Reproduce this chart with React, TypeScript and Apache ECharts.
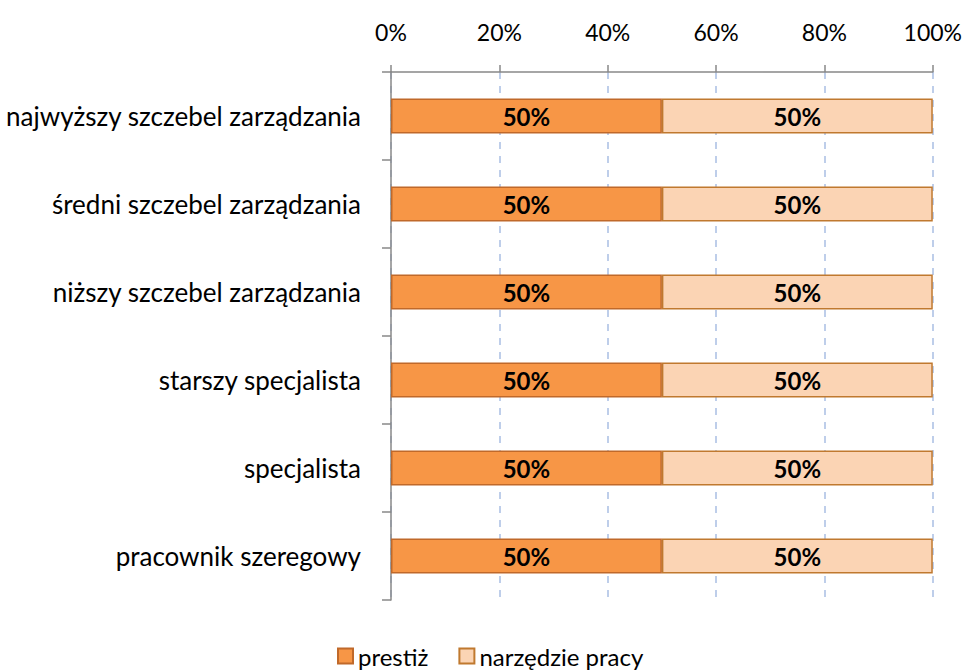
import React, { useEffect, useRef } from "react";
import * as echarts from "echarts";

const categories = [
  "najwyższy szczebel zarządzania",
  "średni szczebel zarządzania",
  "niższy szczebel zarządzania",
  "starszy specjalista",
  "specjalista",
  "pracownik szeregowy",
];
const prestiz = [50, 50, 50, 50, 50, 50];
const narzedzie = [50, 50, 50, 50, 50, 50];
const seriesNames = ["prestiż", "narzędzie pracy"];

const FONT = "Lato, 'Open Sans', sans-serif";

export default function App() {
  const ref = useRef<HTMLDivElement>(null);
  useEffect(() => {
    if (!ref.current) return;
    const chart = echarts.init(ref.current, undefined, { renderer: "svg" });
    const label = {
      show: true,
      position: "inside",
      formatter: "{c}%",
      color: "#000",
      fontWeight: "bold",
      fontSize: 24,
      fontFamily: FONT,
    };
    chart.setOption({
      animation: false,
      textStyle: { fontFamily: FONT },
      grid: { left: 391, right: 32, top: 72, bottom: 71, containLabel: false },
      legend: {
        left: 332,
        bottom: 0,
        padding: [0, 5, 2, 5],
        itemWidth: 15,
        itemHeight: 15,
        itemGap: 30,
        icon: "rect",
        textStyle: { fontSize: 24, color: "#000", fontFamily: FONT, lineHeight: 26 },
        data: seriesNames,
      },
      xAxis: {
        type: "value",
        position: "top",
        min: 0,
        max: 100,
        interval: 20,
        axisLine: { show: true, lineStyle: { color: "#888", width: 1.5 } },
        axisTick: { show: true, inside: false, length: 7, lineStyle: { color: "#888", width: 1.5 } },
        axisLabel: { formatter: "{value}%", fontSize: 23, color: "#000", margin: 29, fontFamily: FONT },
        splitLine: { show: true, lineStyle: { color: "#a9bfe3", type: [7, 7], width: 1.5 } },
      },
      yAxis: {
        type: "category",
        inverse: true,
        data: categories,
        axisLine: { show: true, lineStyle: { color: "#888", width: 1.5 } },
        axisTick: { show: true, inside: false, length: 9, alignWithLabel: false, lineStyle: { color: "#888", width: 1.5 } },
        axisLabel: { fontSize: 26, color: "#000", margin: 30, fontFamily: FONT },
        splitLine: { show: false },
      },
      series: [
        {
          name: seriesNames[0],
          type: "bar",
          stack: "a",
          data: prestiz,
          barWidth: "40%",
          itemStyle: { color: "#F79646", borderColor: "#C0692A", borderWidth: 1.5 },
          label,
        },
        {
          name: seriesNames[1],
          type: "bar",
          stack: "a",
          data: narzedzie,
          barWidth: "40%",
          itemStyle: { color: "#FBD4B4", borderColor: "#C0792F", borderWidth: 1.5 },
          label,
        },
      ],
    });
    return () => chart.dispose();
  }, []);
  return <div ref={ref} style={{ width: 965, height: 671, position: "absolute", left: 0, top: 0 }} />;
}
